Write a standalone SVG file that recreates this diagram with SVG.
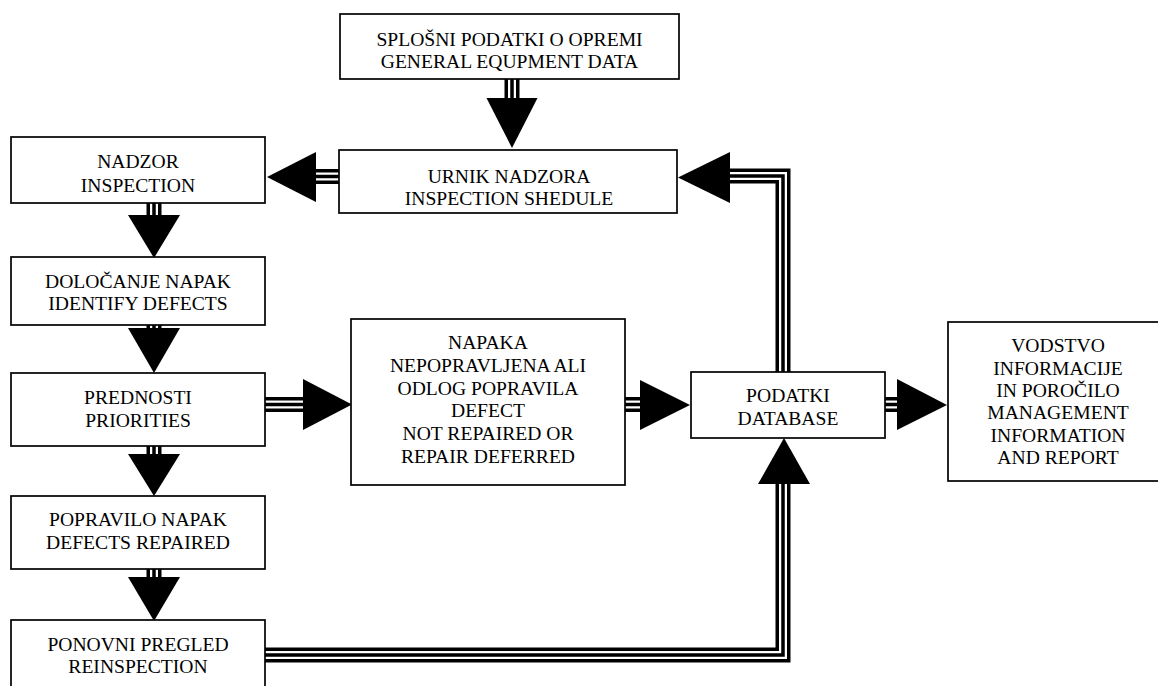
<svg xmlns="http://www.w3.org/2000/svg" width="1158" height="686" viewBox="0 0 1158 686">
<style>
  .box { fill:#fff; stroke:#000; stroke-width:1.7; }
  .t { font-family:"Liberation Serif","Times New Roman",serif; font-size:19.6px; fill:#000; text-anchor:middle; }
  .lo { fill:none; stroke:#000; stroke-width:15; stroke-linejoin:miter; }
  .lm { fill:none; stroke:#fff; stroke-width:8; stroke-linejoin:miter; }
  .li { fill:none; stroke:#000; stroke-width:3.5; stroke-linejoin:miter; }
  .head { fill:#000; stroke:none; }
</style>
<defs>
  <path id="pA" d="M512,79 V98"/>
  <path id="pB" d="M339,176.5 H316"/>
  <path id="pC" d="M154,203 V215"/>
  <path id="pD" d="M154,325 V328"/>
  <path id="pE" d="M154,446 V454"/>
  <path id="pF" d="M154,569 V577"/>
  <path id="pG" d="M265,404.5 H303"/>
  <path id="pH" d="M625,404.5 H640"/>
  <path id="pI" d="M885,404.5 H897"/>
  <path id="pJ" d="M783,372 V176 H730"/>
  <path id="pK" d="M265,655 H783 V484"/>
</defs>
<rect width="1158" height="686" fill="#fff"/>
<g id="connectors">
  <g id="c-general-schedule"><use href="#pA" class="lo"/><use href="#pA" class="lm"/><use href="#pA" class="li"/><polygon class="head" points="486.5,98 537.5,98 512,148"/></g>
  <g id="c-schedule-inspection"><use href="#pB" class="lo"/><use href="#pB" class="lm"/><use href="#pB" class="li"/><polygon class="head" points="316,152 316,202 267,177"/></g>
  <g id="c-inspection-identify"><use href="#pC" class="lo"/><use href="#pC" class="lm"/><use href="#pC" class="li"/><polygon class="head" points="128,215 180,215 154,258"/></g>
  <g id="c-identify-priorities"><use href="#pD" class="lo"/><use href="#pD" class="lm"/><use href="#pD" class="li"/><polygon class="head" points="128,328 180,328 154,373"/></g>
  <g id="c-priorities-repaired"><use href="#pE" class="lo"/><use href="#pE" class="lm"/><use href="#pE" class="li"/><polygon class="head" points="128,454 180,454 154,496"/></g>
  <g id="c-repaired-reinspection"><use href="#pF" class="lo"/><use href="#pF" class="lm"/><use href="#pF" class="li"/><polygon class="head" points="128,577 180,577 154,621"/></g>
  <g id="c-priorities-deferred"><use href="#pG" class="lo"/><use href="#pG" class="lm"/><use href="#pG" class="li"/><polygon class="head" points="303,379 303,430 352,404.5"/></g>
  <g id="c-deferred-database"><use href="#pH" class="lo"/><use href="#pH" class="lm"/><use href="#pH" class="li"/><polygon class="head" points="640,380 640,430 690,405"/></g>
  <g id="c-database-management"><use href="#pI" class="lo"/><use href="#pI" class="lm"/><use href="#pI" class="li"/><polygon class="head" points="897,379 897,430 947,405"/></g>
  <g id="c-database-schedule"><use href="#pJ" class="lo"/><use href="#pJ" class="lm"/><use href="#pJ" class="li"/><polygon class="head" points="730,152 730,203 678,177.5"/></g>
  <g id="c-reinspection-database"><use href="#pK" class="lo"/><use href="#pK" class="lm"/><use href="#pK" class="li"/><polygon class="head" points="758,484 810,484 784,438"/></g>
</g>
<g id="n-general">
  <rect class="box" x="340" y="14" width="339" height="65"/>
  <text class="t" x="509.5" y="46">SPLOŠNI PODATKI O OPREMI</text>
  <text class="t" x="509.5" y="68">GENERAL EQUPMENT DATA</text>
</g>
<g id="n-schedule">
  <rect class="box" x="339" y="150" width="338" height="63"/>
  <text class="t" x="509" y="182.5">URNIK NADZORA</text>
  <text class="t" x="509" y="204.5">INSPECTION SHEDULE</text>
</g>
<g id="n-inspection">
  <rect class="box" x="11" y="137" width="254" height="66"/>
  <text class="t" x="138" y="168">NADZOR</text>
  <text class="t" x="138" y="192">INSPECTION</text>
</g>
<g id="n-identify">
  <rect class="box" x="11" y="257" width="254" height="68"/>
  <text class="t" x="138" y="288">DOLOČANJE NAPAK</text>
  <text class="t" x="138" y="310">IDENTIFY DEFECTS</text>
</g>
<g id="n-priorities">
  <rect class="box" x="11" y="373" width="254" height="73"/>
  <text class="t" x="138" y="404">PREDNOSTI</text>
  <text class="t" x="138" y="427">PRIORITIES</text>
</g>
<g id="n-repaired">
  <rect class="box" x="11" y="496" width="254" height="73"/>
  <text class="t" x="138" y="526">POPRAVILO NAPAK</text>
  <text class="t" x="138" y="549">DEFECTS REPAIRED</text>
</g>
<g id="n-reinspection">
  <rect class="box" x="11" y="620" width="254" height="90"/>
  <text class="t" x="138" y="651">PONOVNI PREGLED</text>
  <text class="t" x="138" y="673">REINSPECTION</text>
</g>
<g id="n-deferred">
  <rect class="box" x="351" y="319" width="274" height="166"/>
  <text class="t" x="488" y="349">NAPAKA</text>
  <text class="t" x="488" y="372">NEPOPRAVLJENA ALI</text>
  <text class="t" x="488" y="394.5">ODLOG POPRAVILA</text>
  <text class="t" x="488" y="417">DEFECT</text>
  <text class="t" x="488" y="440">NOT REPAIRED OR</text>
  <text class="t" x="488" y="463">REPAIR DEFERRED</text>
</g>
<g id="n-database">
  <rect class="box" x="691" y="372" width="194" height="66"/>
  <text class="t" x="788" y="402">PODATKI</text>
  <text class="t" x="788" y="425">DATABASE</text>
</g>
<g id="n-management">
  <rect class="box" x="948" y="322" width="220" height="159"/>
  <text class="t" x="1058" y="352">VODSTVO</text>
  <text class="t" x="1058" y="374.5">INFORMACIJE</text>
  <text class="t" x="1058" y="397">IN POROČILO</text>
  <text class="t" x="1058" y="419">MANAGEMENT</text>
  <text class="t" x="1058" y="441.5">INFORMATION</text>
  <text class="t" x="1058" y="464">AND REPORT</text>
</g>
</svg>
